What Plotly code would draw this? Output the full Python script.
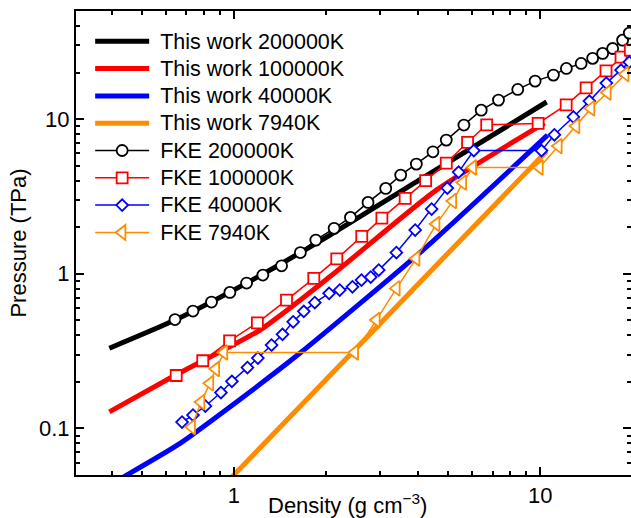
import math
import plotly.graph_objects as go

# ---------------- data ----------------
tw200k_x = [0.392, 0.642, 1.13, 2.06, 4.0, 10.5]
tw200k_y = [0.330, 0.502, 0.897, 1.78, 4.0, 12.9]

tw100k_x = [0.392, 0.645, 1.216, 2.056, 4.58, 10.33]
tw100k_y = [0.128, 0.2214, 0.4326, 0.956, 3.476, 9.42]

tw40k_x = [0.392, 0.441, 0.667, 0.995, 1.641, 4.14, 10.57]
tw40k_y = [0.043, 0.0492, 0.0801, 0.143, 0.306, 1.423, 7.88]

tw7940_x = [0.98, 2.0, 4.0, 7.0, 10.5]
tw7940_y = [0.048, 0.207, 0.86, 2.70, 6.2]

fke200k_x = [0.642, 0.735, 0.845, 0.970, 1.10, 1.243, 1.431, 1.648, 1.851, 2.124,
             2.402, 2.741, 3.131, 3.504, 3.942, 4.466, 4.937, 5.636, 6.42, 7.31,
             8.45, 9.63, 11.05, 12.18, 13.61, 14.84, 16.0, 17.25, 18.59, 19.55]
fke200k_y = [0.506, 0.574, 0.656, 0.758, 0.871, 0.981, 1.126, 1.371, 1.651, 1.966,
             2.315, 2.894, 3.565, 4.345, 5.118, 6.146, 7.315, 9.15, 11.43, 13.27,
             15.56, 17.61, 19.25, 21.27, 22.9, 24.7, 26.6, 28.6, 32.4, 35.97]

fke100k_x = [0.648, 0.791, 0.968, 1.193, 1.485, 1.823, 2.167, 2.615, 3.042, 3.624,
             4.227, 4.937, 5.794, 6.69, 9.85, 12.16, 14.13, 16.41, 18.37, 19.70]
fke100k_y = [0.220, 0.274, 0.368, 0.482, 0.676, 0.934, 1.248, 1.745, 2.291, 3.072,
             4.005, 5.195, 7.08, 9.19, 9.38, 12.37, 15.91, 20.52, 25.16, 27.93]

fke40k_x = [0.677, 0.735, 0.807, 0.907, 0.985, 1.107, 1.197, 1.327, 1.441, 1.561,
            1.691, 1.837, 2.045, 2.216, 2.438, 2.609, 2.797, 2.971, 3.393, 3.907,
            4.422, 4.975, 5.416, 6.071, 10.10, 11.13, 12.84, 14.48, 16.45, 18.37, 19.55]
fke40k_y = [0.110, 0.122, 0.1396, 0.1706, 0.2016, 0.2475, 0.2851, 0.346, 0.4057, 0.4894,
            0.5714, 0.6514, 0.747, 0.7846, 0.824, 0.9105, 0.952, 1.0566, 1.371, 1.917,
            2.62, 3.581, 4.544, 6.257, 6.257, 7.915, 10.33, 13.07, 17.09, 20.74, 23.36]

fke7940_x = [0.728, 0.781, 0.835, 0.873, 0.928, 2.481, 2.919, 3.393, 3.936, 4.575,
             5.188, 5.593, 6.028, 9.95, 11.47, 13.10, 14.66, 16.58, 18.97]
fke7940_y = [0.102, 0.148, 0.1957, 0.242, 0.3094, 0.3094, 0.502, 0.8043, 1.254, 2.096,
             2.951, 3.886, 4.86, 4.86, 6.69, 9.01, 11.73, 14.84, 19.54]

x_tickvals = [1, 10]
x_ticktext = ["1", "10"]
y_tickvals = [0.1, 1, 10]
y_ticktext = ["0.1", "1", "10"]
x_minor = [0.4, 0.5, 0.6, 0.7, 0.8, 0.9, 2, 3, 4, 5, 6, 7, 8, 9]
y_minor = [0.06, 0.07, 0.08, 0.09, 0.2, 0.3, 0.4, 0.5, 0.6, 0.7, 0.8, 0.9,
           2, 3, 4, 5, 6, 7, 8, 9, 20, 30, 40]

BLACK = "#000000"
RED = "#ff0000"
BLUE = "#0000ff"
ORANGE = "#ff8c00"
FONT = "Liberation Sans, Arial, Helvetica, sans-serif"


def lname(s):
    return "<span style='font-size:21.5px'>&nbsp;" + s + "</span>"


fig = go.Figure()

for xs, ys, col, nm in [
    (tw200k_x, tw200k_y, BLACK, "This work 200000K"),
    (tw100k_x, tw100k_y, RED, "This work 100000K"),
    (tw40k_x, tw40k_y, BLUE, "This work 40000K"),
    (tw7940_x, tw7940_y, ORANGE, "This work 7940K"),
]:
    fig.add_trace(go.Scatter(x=xs, y=ys, mode="lines", name=lname(nm),
                             line=dict(color=col, width=5, shape="spline", smoothing=0.6)))

for xs, ys, col, sym, sz, nm in [
    (fke200k_x, fke200k_y, BLACK, "circle", 11, "FKE 200000K"),
    (fke100k_x, fke100k_y, RED, "square", 11, "FKE 100000K"),
    (fke40k_x, fke40k_y, BLUE, "diamond", 9, "FKE 40000K"),
    (fke7940_x, fke7940_y, ORANGE, "triangle-left", 13, "FKE 7940K"),
]:
    fig.add_trace(go.Scatter(x=xs, y=ys, mode="lines+markers", name=lname(nm),
                             line=dict(color=col, width=1.5),
                             marker=dict(symbol=sym, size=sz, color="white",
                                         line=dict(color=col, width=1.8))))

axis_common = dict(
    type="log", showline=True, linecolor="black", linewidth=2, mirror="ticks",
    ticks="inside", ticklen=8, tickwidth=1.5, tickcolor="black",
    showgrid=False, zeroline=False,
    tickfont=dict(family=FONT, size=22, color="black"),
)

fig.update_xaxes(
    **axis_common,
    range=[math.log10(0.305), math.log10(19.8)],
    tickvals=x_tickvals, ticktext=x_ticktext,
    minor=dict(tickvals=x_minor, ticks="inside", ticklen=4, tickwidth=1.5, tickcolor="black"),
)
fig.update_yaxes(
    **axis_common,
    range=[math.log10(0.05), math.log10(50)],
    tickvals=y_tickvals, ticktext=y_ticktext,
    minor=dict(tickvals=y_minor, ticks="inside", ticklen=4, tickwidth=1.5, tickcolor="black"),
    title=dict(text="Pressure (TPa)", font=dict(family=FONT, size=22, color="black"), standoff=6),
)

fig.add_annotation(text="Density (g cm<sup>−3</sup>)", xref="paper", yref="paper",
                   x=0.49, y=-0.062, xanchor="center", yanchor="middle", showarrow=False,
                   font=dict(family=FONT, size=22, color="black"))

fig.update_layout(
    width=631, height=518,
    margin=dict(l=76, r=0, t=11, b=43, autoexpand=False),
    paper_bgcolor="white", plot_bgcolor="white",
    font=dict(family=FONT, size=22, color="black"),
    showlegend=True,
    legend=dict(x=0.0255, y=0.975, xanchor="left", yanchor="top",
                bgcolor="rgba(0,0,0,0)", borderwidth=0,
                font=dict(family=FONT, size=18.7, color="black"),
                itemwidth=54, tracegroupgap=0),
)

fig.write_html("out.html")
